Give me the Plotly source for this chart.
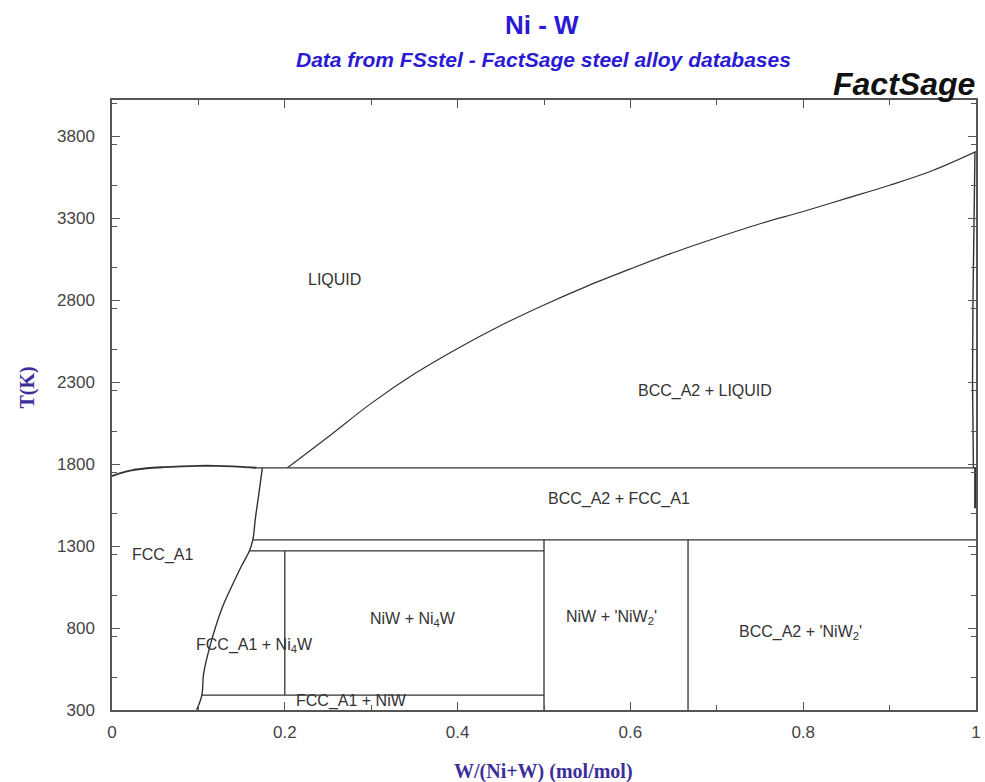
import plotly.graph_objects as go

# ---- data (x = W/(Ni+W) mol/mol, T in K) ----
liq_ni_x = [0.0, 0.012, 0.024, 0.04, 0.059, 0.08, 0.10, 0.12, 0.14, 0.155, 0.167]
liq_ni_T = [1727, 1748, 1763, 1774, 1781, 1786, 1789, 1789, 1786, 1781, 1777]

liq_w_x = [0.203, 0.25, 0.30, 0.35, 0.40, 0.45, 0.50, 0.55, 0.60, 0.65, 0.70, 0.75, 0.80, 0.85, 0.90, 0.95, 1.0]
liq_w_T = [1777, 1965, 2170, 2350, 2505, 2645, 2770, 2885, 2990, 3090, 3180, 3265, 3340, 3420, 3500, 3590, 3705]

sol_w_x = [0.9988, 0.9975, 0.9965, 0.996, 0.9965, 0.997]
sol_w_T = [3705, 3300, 2800, 2300, 2000, 1777]

solv_w_x = [0.9992, 0.9992]
solv_w_T = [1777, 1530]

fcc_solvus_x = [0.174, 0.170, 0.166, 0.163, 0.159, 0.150, 0.140, 0.128, 0.115, 0.106, 0.104, 0.098]
fcc_solvus_T = [1777, 1620, 1470, 1337, 1270, 1180, 1070, 930, 720, 520, 391, 300]

peritectic_x = [0.165, 1.0]
peritectic_T = [1777, 1777]

ni4w_top_x = [0.163, 1.0]
ni4w_top_T = [1337, 1337]

ni4w_eut_x = [0.159, 0.5]
ni4w_eut_T = [1270, 1270]

ni4w_x = [0.2, 0.2]
ni4w_T = [1270, 391]

niw_x = [0.5, 0.5]
niw_T = [1337, 300]

niw2_x = [0.6667, 0.6667]
niw2_T = [1337, 300]

low_x = [0.104, 0.5]
low_T = [391, 391]

labels = ["LIQUID", "BCC_A2 + LIQUID", "BCC_A2 + FCC_A1", "FCC_A1",
          "NiW + Ni<sub>4</sub>W", "NiW + 'NiW<sub>2</sub>'", "BCC_A2 + 'NiW<sub>2</sub>'",
          "FCC_A1 + Ni<sub>4</sub>W", "FCC_A1 + NiW"]
label_x = [0.258, 0.686, 0.587, 0.058, 0.348, 0.578, 0.797, 0.165, 0.277]
label_T = [2928, 2245, 1587, 1245, 849, 867, 775, 696, 355]

x_ticks = [0, 0.2, 0.4, 0.6, 0.8, 1]
x_ticktext = ["0", "0.2", "0.4", "0.6", "0.8", "1"]
y_ticks = [300, 800, 1300, 1800, 2300, 2800, 3300, 3800]

fig = go.Figure()
segments = [
    (liq_ni_x, liq_ni_T, 1.9, "spline"), (liq_w_x, liq_w_T, 1.2, "spline"),
    (sol_w_x, sol_w_T, 1.4, "linear"), (solv_w_x, solv_w_T, 2.4, "linear"),
    (fcc_solvus_x, fcc_solvus_T, 1.4, "spline"),
    (peritectic_x, peritectic_T, 1.3, "linear"), (ni4w_top_x, ni4w_top_T, 1.3, "linear"),
    (ni4w_eut_x, ni4w_eut_T, 1.3, "linear"), (ni4w_x, ni4w_T, 1.3, "linear"),
    (niw_x, niw_T, 1.3, "linear"), (niw2_x, niw2_T, 1.3, "linear"), (low_x, low_T, 1.3, "linear"),
]
for xs, ts, w, shp in segments:
    fig.add_trace(go.Scatter(x=xs, y=ts, mode="lines",
                             line=dict(color="#333333", width=w, shape=shp),
                             hoverinfo="skip", showlegend=False))

axis_common = dict(showline=True, linecolor="#555555", linewidth=1.5, mirror="ticks",
                   ticks="inside", ticklen=8, tickcolor="#555555", tickwidth=1,
                   showgrid=False, zeroline=False, ticklabeloverflow="allow",
                   tickfont=dict(family="Arial", size=17, color="#444444"))

fig.update_xaxes(range=[0, 1], tickvals=x_ticks, ticktext=x_ticktext, ticklabelstandoff=6,
                 minor=dict(dtick=0.1, ticks="inside", ticklen=5, tickcolor="#555555", showgrid=False),
                 **axis_common)
fig.update_yaxes(range=[300, 4020], tickvals=y_ticks, ticklabelstandoff=12,
                 minor=dict(dtick=250, ticks="inside", ticklen=5, tickcolor="#555555", showgrid=False),
                 **axis_common)

ML, MR, MT, MB = 112, 4, 100, 72
H = 782 - MT - MB
W = 985 - ML - MR
def py(pixel_y):
    return (782 - MB - pixel_y) / H
def px(pixel_x):
    return (pixel_x - ML) / W

annos = [
    dict(text="<b>Ni - W</b>", x=px(544), y=py(25), xref="paper", yref="paper", showarrow=False,
         xanchor="center", yanchor="middle",
         font=dict(family="Arial", size=26, color="#2a1ad6")),
    dict(text="<b><i>Data from FSstel - FactSage steel alloy databases</i></b>", x=px(546), y=py(60),
         xref="paper", yref="paper", showarrow=False, xanchor="center", yanchor="middle",
         font=dict(family="Arial", size=21, color="#2a1ad6")),
    dict(text="<b><i>FactSage</i></b>", x=px(982), y=py(84), xref="paper", yref="paper",
         showarrow=False, xanchor="right", yanchor="middle",
         font=dict(family="Arial", size=32, color="#111111")),
    dict(text="<b>T(K)</b>", x=px(27), y=py(387), xref="paper", yref="paper", showarrow=False,
         textangle=-90, xanchor="center", yanchor="middle",
         font=dict(family="Liberation Serif", size=20, color="#3d2f9a")),
    dict(text="<b>W/(Ni+W) (mol/mol)</b>", x=px(546), y=py(771), xref="paper", yref="paper",
         showarrow=False, xanchor="center", yanchor="middle",
         font=dict(family="Liberation Serif", size=20, color="#3d2f9a")),
]
for lx, lt, txt in zip(label_x, label_T, labels):
    annos.append(dict(text=txt, x=lx, y=lt, xref="x", yref="y", showarrow=False,
                      xanchor="center", yanchor="middle",
                      font=dict(family="Arial", size=16, color="#333333")))

fig.update_layout(
    width=985, height=782,
    margin=dict(l=ML, r=MR, t=MT, b=MB),
    paper_bgcolor="white", plot_bgcolor="white",
    annotations=annos,
)

fig.write_html("out.html")
